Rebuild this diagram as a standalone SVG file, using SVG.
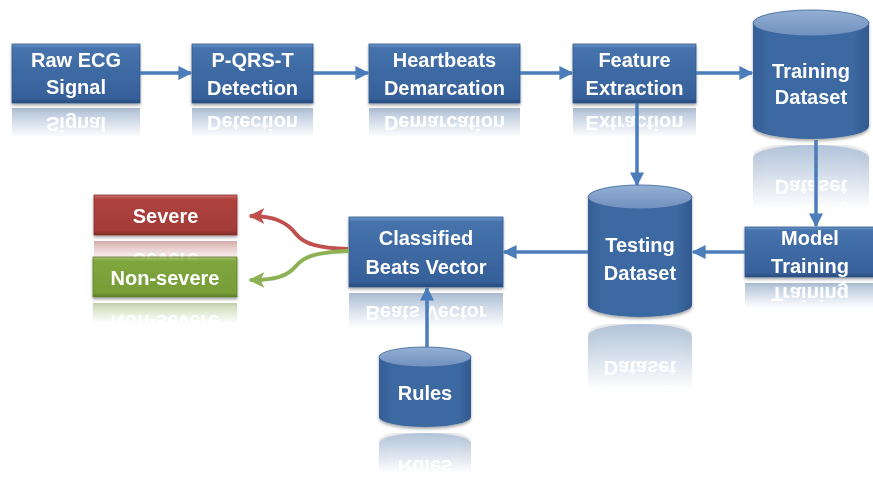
<svg xmlns="http://www.w3.org/2000/svg" xmlns:xlink="http://www.w3.org/1999/xlink" width="873" height="478" viewBox="0 0 873 478">
  <defs>
    <style>
      .lbl { font-family: "Liberation Sans", Arial, sans-serif; font-weight: bold; font-size: 20px; fill: #ffffff; text-anchor: middle; }
      .flow { fill: none; stroke: #4A7DBA; stroke-width: 3.5; }
      .sev { fill: none; stroke: #C0504D; stroke-width: 4; }
      .nonsev { fill: none; stroke: #8DB255; stroke-width: 4; }
      .cylbody { fill: url(#cylBody); }
      .cyltop { fill: url(#cylTop); stroke: #3A6399; stroke-width: 0.8; }
    </style>
    <!-- bevelled block fills -->
    <linearGradient id="blueBlock" x1="0" y1="0" x2="0" y2="1">
      <stop offset="0" stop-color="#6D96C9"/>
      <stop offset="0.07" stop-color="#4673AD"/>
      <stop offset="0.5" stop-color="#3D69A2"/>
      <stop offset="0.92" stop-color="#36609A"/>
      <stop offset="1" stop-color="#274A78"/>
    </linearGradient>
    <linearGradient id="redBlock" x1="0" y1="0" x2="0" y2="1">
      <stop offset="0" stop-color="#D2726F"/>
      <stop offset="0.1" stop-color="#AE423E"/>
      <stop offset="0.9" stop-color="#A33B37"/>
      <stop offset="1" stop-color="#7E2A27"/>
    </linearGradient>
    <linearGradient id="greenBlock" x1="0" y1="0" x2="0" y2="1">
      <stop offset="0" stop-color="#A9C878"/>
      <stop offset="0.1" stop-color="#7FA63E"/>
      <stop offset="0.9" stop-color="#779D38"/>
      <stop offset="1" stop-color="#5A7A28"/>
    </linearGradient>
    <!-- cylinder fills -->
    <linearGradient id="cylBody" x1="0" y1="0" x2="1" y2="0">
      <stop offset="0" stop-color="#355E95"/>
      <stop offset="0.15" stop-color="#3D69A2"/>
      <stop offset="0.85" stop-color="#3D69A2"/>
      <stop offset="1" stop-color="#335A8F"/>
    </linearGradient>
    <linearGradient id="cylTop" x1="0" y1="0" x2="0" y2="1">
      <stop offset="0" stop-color="#94AFD3"/>
      <stop offset="1" stop-color="#6F90BF"/>
    </linearGradient>
    <!-- reflection fade -->
    <linearGradient id="fadeGrad" x1="0" y1="0" x2="0" y2="1">
      <stop offset="0" stop-color="#fff" stop-opacity="0"/>
      <stop offset="0.5" stop-color="#fff" stop-opacity="0"/>
      <stop offset="1" stop-color="#fff" stop-opacity="0.4"/>
    </linearGradient>
    <mask id="fade" maskContentUnits="objectBoundingBox">
      <rect x="0" y="0" width="1" height="1" fill="url(#fadeGrad)"/>
    </mask>
    <filter id="shadow" x="-10%" y="-10%" width="120%" height="130%">
      <feGaussianBlur in="SourceAlpha" stdDeviation="1.5"/>
      <feOffset dx="0" dy="2" result="b"/>
      <feComponentTransfer><feFuncA type="linear" slope="0.35"/></feComponentTransfer>
      <feMerge><feMergeNode/><feMergeNode in="SourceGraphic"/></feMerge>
    </filter>
    <marker id="arrowBlue" viewBox="0 0 10 10" refX="9" refY="5" markerWidth="4" markerHeight="4" orient="auto" markerUnits="strokeWidth">
      <path d="M0,0 L10,5 L0,10 Z" fill="#4A7DBA"/>
    </marker>
    <marker id="arrowRed" viewBox="0 0 10 10" refX="9" refY="5" markerWidth="4" markerHeight="4" orient="auto" markerUnits="strokeWidth">
      <path d="M0,0 L10,5 L0,10 L2.5,5 Z" fill="#C0504D"/>
    </marker>
    <marker id="arrowGreen" viewBox="0 0 10 10" refX="9" refY="5" markerWidth="4" markerHeight="4" orient="auto" markerUnits="strokeWidth">
      <path d="M0,0 L10,5 L0,10 L2.5,5 Z" fill="#8DB255"/>
    </marker>
  </defs>

  <rect x="0" y="0" width="873" height="478" fill="#ffffff"/>

  <!-- process blocks -->
  <g id="raw-ecg" filter="url(#shadow)">
    <rect x="12" y="44" width="128" height="59" fill="url(#blueBlock)" stroke="#30598C" stroke-width="0.8"/>
    <text class="lbl" x="76" y="67">Raw ECG</text>
    <text class="lbl" x="76" y="94">Signal</text>
  </g>
  <g id="pqrst" filter="url(#shadow)">
    <rect x="192" y="44" width="121" height="59" fill="url(#blueBlock)" stroke="#30598C" stroke-width="0.8"/>
    <text class="lbl" x="252.5" y="67">P-QRS-T</text>
    <text class="lbl" x="252.5" y="95">Detection</text>
  </g>
  <g id="heartbeats" filter="url(#shadow)">
    <rect x="369" y="44" width="151" height="59" fill="url(#blueBlock)" stroke="#30598C" stroke-width="0.8"/>
    <text class="lbl" x="444.5" y="67">Heartbeats</text>
    <text class="lbl" x="444.5" y="95">Demarcation</text>
  </g>
  <g id="feature" filter="url(#shadow)">
    <rect x="573" y="44" width="123" height="59" fill="url(#blueBlock)" stroke="#30598C" stroke-width="0.8"/>
    <text class="lbl" x="634.5" y="67">Feature</text>
    <text class="lbl" x="634.5" y="95">Extraction</text>
  </g>

  <!-- data stores -->
  <g id="training-dataset" filter="url(#shadow)">
    <path class="cylbody" d="M753,23 L753,126 A58,13 0 0 0 869,126 L869,23 Z"/>
    <ellipse class="cyltop" cx="811" cy="23" rx="58" ry="13"/>
    <text class="lbl" x="811" y="78">Training</text>
    <text class="lbl" x="811" y="104">Dataset</text>
  </g>

  <!-- reflections of the top row -->
  <g id="reflections-top">
    <use xlink:href="#raw-ecg" href="#raw-ecg" transform="translate(0,211) scale(1,-1)" mask="url(#fade)"/>
    <use xlink:href="#pqrst" href="#pqrst" transform="translate(0,211) scale(1,-1)" mask="url(#fade)"/>
    <use xlink:href="#heartbeats" href="#heartbeats" transform="translate(0,211) scale(1,-1)" mask="url(#fade)"/>
    <use xlink:href="#feature" href="#feature" transform="translate(0,211) scale(1,-1)" mask="url(#fade)"/>
    <use xlink:href="#training-dataset" href="#training-dataset" transform="translate(0,284) scale(1,-1)" mask="url(#fade)"/>
  </g>

  <g id="model-training" filter="url(#shadow)">
    <rect x="745" y="227" width="136" height="50" fill="url(#blueBlock)" stroke="#30598C" stroke-width="0.8"/>
    <text class="lbl" x="810" y="245">Model</text>
    <text class="lbl" x="810" y="273">Training</text>
  </g>
  <g id="testing-dataset" filter="url(#shadow)">
    <path class="cylbody" d="M588,197 L588,305 A52,12 0 0 0 692,305 L692,197 Z"/>
    <ellipse class="cyltop" cx="640" cy="197" rx="52" ry="12"/>
    <text class="lbl" x="640" y="252">Testing</text>
    <text class="lbl" x="640" y="280">Dataset</text>
  </g>
  <g id="classified" filter="url(#shadow)">
    <rect x="349" y="217" width="154" height="70" fill="url(#blueBlock)" stroke="#30598C" stroke-width="0.8"/>
    <text class="lbl" x="426" y="245">Classified</text>
    <text class="lbl" x="426" y="274">Beats Vector</text>
  </g>
  <g id="severe" filter="url(#shadow)">
    <rect x="94" y="195" width="143" height="40" fill="url(#redBlock)" stroke="#8A302D" stroke-width="0.8"/>
    <text class="lbl" x="165.5" y="223">Severe</text>
  </g>
  <g id="non-severe" filter="url(#shadow)">
    <rect x="93" y="257" width="144" height="40" fill="url(#greenBlock)" stroke="#5F8030" stroke-width="0.8"/>
    <text class="lbl" x="165" y="285">Non-severe</text>
  </g>
  <g id="rules" filter="url(#shadow)">
    <path class="cylbody" d="M379,357 L379,417 A46,10 0 0 0 471,417 L471,357 Z"/>
    <ellipse class="cyltop" cx="425" cy="357" rx="46" ry="10"/>
    <text class="lbl" x="425" y="400">Rules</text>
  </g>

  <!-- reflections of the lower row -->
  <g id="reflections-bottom">
    <use xlink:href="#model-training" href="#model-training" transform="translate(0,560) scale(1,-1)" mask="url(#fade)"/>
    <use xlink:href="#testing-dataset" href="#testing-dataset" transform="translate(0,641) scale(1,-1)" mask="url(#fade)"/>
    <use xlink:href="#classified" href="#classified" transform="translate(0,580) scale(1,-1)" mask="url(#fade)"/>
    <use xlink:href="#severe" href="#severe" transform="translate(0,476) scale(1,-1)" mask="url(#fade)"/>
    <use xlink:href="#non-severe" href="#non-severe" transform="translate(0,600) scale(1,-1)" mask="url(#fade)"/>
    <use xlink:href="#rules" href="#rules" transform="translate(0,860) scale(1,-1)" mask="url(#fade)"/>
  </g>

  <!-- connectors -->
  <g id="connectors">
    <line class="flow" x1="140" y1="73" x2="191" y2="73" marker-end="url(#arrowBlue)"/>
    <line class="flow" x1="313" y1="73" x2="368" y2="73" marker-end="url(#arrowBlue)"/>
    <line class="flow" x1="520" y1="73" x2="572" y2="73" marker-end="url(#arrowBlue)"/>
    <line class="flow" x1="696" y1="73" x2="752" y2="73" marker-end="url(#arrowBlue)"/>
    <line class="flow" x1="637" y1="103" x2="637" y2="185" marker-end="url(#arrowBlue)"/>
    <line class="flow" x1="816" y1="140" x2="816" y2="226" marker-end="url(#arrowBlue)"/>
    <line class="flow" x1="745" y1="252" x2="693" y2="252" marker-end="url(#arrowBlue)"/>
    <line class="flow" x1="588" y1="252" x2="504" y2="252" marker-end="url(#arrowBlue)"/>
    <line class="flow" x1="427" y1="347" x2="427" y2="288" marker-end="url(#arrowBlue)"/>
    <path class="sev" d="M348,249 C318,248 304,244 296,234 C287,222 274,216 250,216" marker-end="url(#arrowRed)"/>
    <path class="nonsev" d="M349,251 C318,252 304,256 296,266 C287,277 274,280 250,280" marker-end="url(#arrowGreen)"/>
  </g>
</svg>
